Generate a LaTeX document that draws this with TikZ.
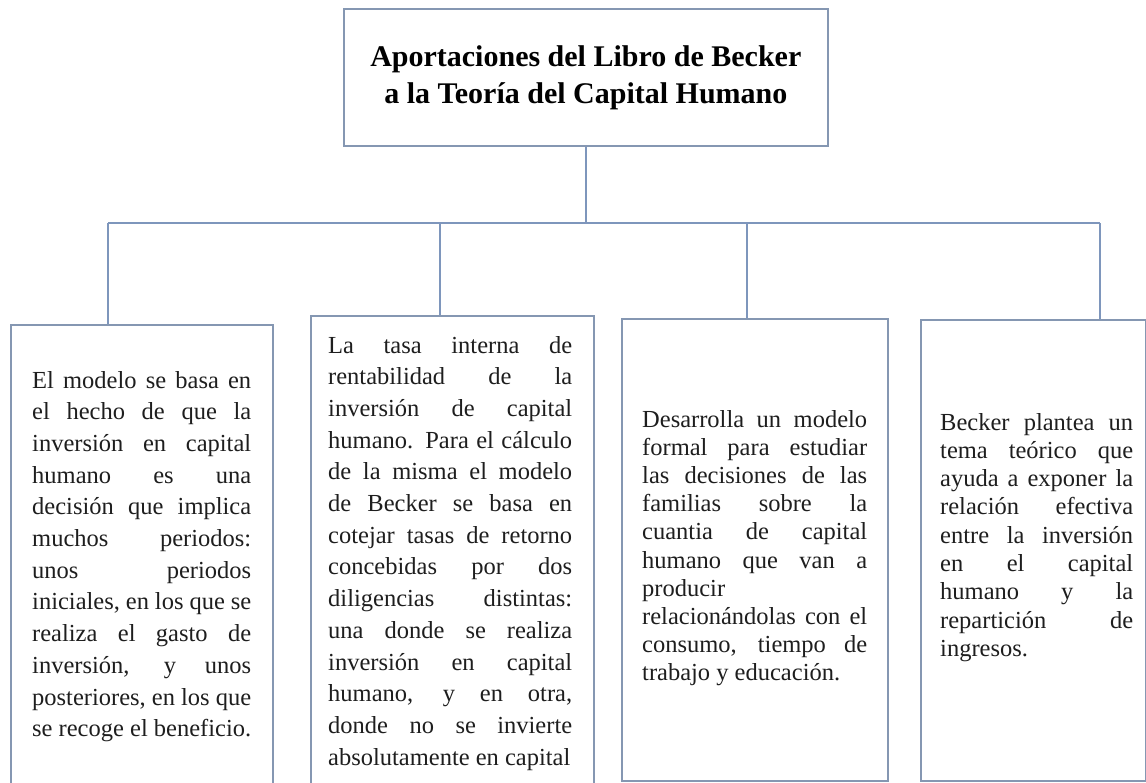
\documentclass[tikz,border=0pt]{standalone}
\usepackage{fontspec}
\setmainfont{Liberation Serif}
\usepackage[HTML]{xcolor}
\usetikzlibrary{positioning}

\definecolor{edgeblue}{HTML}{8597B2}
\definecolor{linkblue}{HTML}{7E96BC}
\definecolor{inkgray}{HTML}{1E1E1E}

\tolerance=10000
\hbadness=10000
\hyphenpenalty=10000
\exhyphenpenalty=10000

\begin{document}
\begin{tikzpicture}[
    x=1pt, y=-1pt, % pixel-like coordinates, y grows downwards
    every node/.style={inner sep=0pt},
    frame/.style={draw=edgeblue, line width=1.6pt, fill=white, anchor=north west},
    body/.style={anchor=base west, align=justify, text=inkgray,
        font=\fontsize{24.5}{#1}\selectfont},
    body/.default=31.7,
    link/.style={draw=linkblue, line width=1.4pt}
]
    % 0. Page
    \fill[white] (0,0) rectangle (1146,782);
    \clip (0,0) rectangle (1146,782);

    % 1. Define the boxes using explicit coordinates
    \node[frame, minimum width=484pt, minimum height=137pt,
        font=\fontsize{30}{37}\selectfont\bfseries, align=center] (title) at (343,8)
        {Aportaciones del Libro de Becker\\a la Teoría del Capital Humano};
    \node[frame, minimum width=262pt, minimum height=470pt] (b1) at (10,324) {};
    \node[frame, minimum width=283pt, minimum height=480pt] (b2) at (310,315) {};
    \node[frame, minimum width=266pt, minimum height=462pt] (b3) at (621,318) {};
    \node[frame, minimum width=225pt, minimum height=461pt] (b4) at (920,319) {};

    % 2. Texts of the four boxes
    \node[body, text width=219pt] (t1) at (32,388)
        {El modelo se basa en\linebreak el hecho de que la\linebreak
        inversión en capital\linebreak humano es una\linebreak
        decisión que implica\linebreak muchos periodos:\linebreak
        unos periodos\linebreak iniciales, en los que se\linebreak
        realiza el gasto de\linebreak inversión, y unos\linebreak
        posteriores, en los que\linebreak se recoge el beneficio.};
    \node[body, text width=244pt] (t2) at (328,353)
        {La tasa interna de\linebreak rentabilidad de la\linebreak
        inversión de capital\linebreak humano. Para el cálculo\linebreak
        de la misma el modelo\linebreak de Becker se basa en\linebreak
        cotejar tasas de retorno\linebreak concebidas por dos\linebreak
        diligencias distintas:\linebreak una donde se realiza\linebreak
        inversión en capital\linebreak humano, y en otra,\linebreak
        donde no se invierte\linebreak absolutamente en capital};
    \node[body=28.2, text width=225pt] (t3) at (642,427)
        {Desarrolla un modelo\linebreak formal para estudiar\linebreak
        las decisiones de las\linebreak familias sobre la\linebreak
        cuantia de capital\linebreak humano que van a\linebreak
        producir\\ relacionándolas con el\linebreak
        consumo, tiempo de\linebreak trabajo y educación.};
    \node[body=28.3, text width=193pt] (t4) at (940,430)
        {Becker plantea un\linebreak tema teórico que\linebreak
        ayuda a exponer la\linebreak relación efectiva\linebreak
        entre la inversión\linebreak en el capital\linebreak
        humano y la\linebreak repartición de\linebreak ingresos.};

    % 3. Draw the connectors
    \coordinate (busL) at (108,223);
    \coordinate (busR) at (1100,223);
    \coordinate (drop2) at (440,223);
    \coordinate (drop3) at (747,223);

    \draw[link] (title.south) -- (title.south |- busL);
    \draw[link] (busL) -- (busR);
    \draw[link] (busL) -- (busL |- b1.north);
    \draw[link] (drop2) -- (drop2 |- b2.north);
    \draw[link] (drop3) -- (drop3 |- b3.north);
    \draw[link] (busR) -- (busR |- b4.north);
\end{tikzpicture}
\end{document}
